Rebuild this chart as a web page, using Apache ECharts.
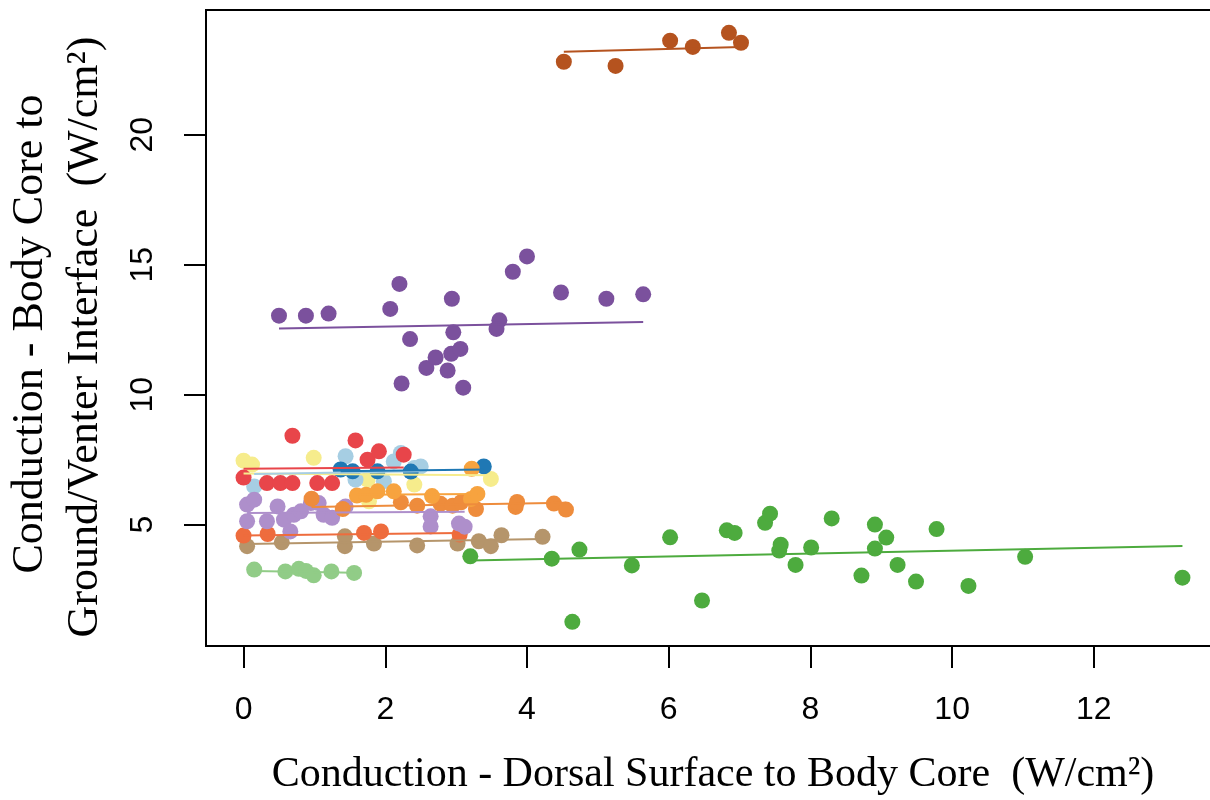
<!DOCTYPE html>
<html>
<head>
<meta charset="utf-8">
<script src="https://cdn.jsdelivr.net/npm/echarts@6/dist/echarts.min.js"></script>
<style>
  html, body { margin: 0; padding: 0; background: #ffffff; }
  #chart { width: 1210px; height: 800px; }
</style>
</head>
<body>
<div id="chart"></div>
<script>
// Tick positions on both axes
const xTicks = [0, 2, 4, 6, 8, 10, 12];
const yTicks = [5, 10, 15, 20];

// Axis titles
const xTitle = 'Conduction - Dorsal Surface to Body Core  (W/cm²)';
const yTitleLines = ['Conduction - Body Core to', 'Ground/Venter Interface  (W/cm²)'];

// Per-individual measurements: [dorsal -> core, core -> ground/venter] in W/cm2
const yellowPts = [[0.00, 7.46], [0.12, 7.31], [0.99, 7.57], [1.75, 6.73], [1.77, 5.90], [2.41, 6.54], [3.49, 6.76]];
const lightBluePts = [[0.15, 6.47], [1.44, 7.63], [1.58, 6.73], [1.98, 6.67], [2.12, 7.43], [2.22, 7.76], [2.41, 7.18], [2.50, 7.24]];
const darkBluePts = [[1.37, 7.12], [1.54, 7.05], [1.89, 7.05], [2.36, 7.04], [3.39, 7.24]];
const redPts = [[0.00, 6.81], [0.33, 6.60], [0.52, 6.60], [0.69, 6.60], [0.69, 8.42], [1.04, 6.60], [1.25, 6.60], [1.58, 8.24], [1.75, 7.50], [1.91, 7.82], [2.26, 7.69]];
const tanPts = [[0.05, 4.17], [0.54, 4.32], [1.43, 4.17], [1.43, 4.55], [1.84, 4.27], [2.45, 4.20], [3.02, 4.27], [3.32, 4.36], [3.49, 4.17], [3.64, 4.59], [4.22, 4.53]];
const redOrangePts = [[0.00, 4.58], [0.34, 4.64], [1.70, 4.68], [1.94, 4.74], [3.05, 4.62]];
const lightPurplePts = [[0.05, 5.77], [0.15, 5.96], [0.05, 5.13], [0.33, 5.13], [0.48, 5.70], [0.57, 5.19], [0.71, 5.38], [0.66, 4.74], [0.81, 5.51], [0.95, 5.83], [1.06, 5.83], [1.13, 5.38], [1.25, 5.26], [1.44, 5.70], [2.64, 5.32], [2.64, 4.93], [3.04, 5.04], [3.12, 4.92]];
const orangePts = [[0.96, 6.00], [1.40, 5.60], [2.22, 5.86], [2.45, 5.73], [2.78, 5.80], [2.95, 5.73], [3.07, 5.86], [3.28, 5.60], [3.84, 5.68], [3.86, 5.87], [4.38, 5.81], [4.55, 5.58]];
const lightOrangePts = [[1.60, 6.12], [1.73, 6.15], [1.89, 6.28], [2.12, 6.28], [2.66, 6.10], [3.21, 5.99], [3.30, 6.18], [3.22, 7.15]];
const lightGreenPts = [[0.15, 3.27], [0.59, 3.20], [0.78, 3.30], [0.88, 3.22], [0.99, 3.05], [1.24, 3.20], [1.56, 3.14]];
const greenPts = [[3.20, 3.78], [4.35, 3.69], [4.74, 4.04], [4.64, 1.26], [5.48, 3.43], [6.02, 4.51], [6.47, 2.08], [6.82, 4.78], [6.93, 4.68], [7.36, 5.07], [7.43, 5.42], [7.58, 4.23], [7.56, 4.00], [7.79, 3.45], [8.01, 4.12], [8.30, 5.24], [8.91, 5.00], [9.07, 4.50], [8.91, 4.08], [8.72, 3.04], [9.23, 3.45], [9.78, 4.83], [9.49, 2.81], [10.23, 2.64], [11.03, 3.76], [13.25, 2.96]];
const purplePts = [[0.50, 13.04], [0.88, 13.04], [1.20, 13.12], [2.07, 13.30], [2.20, 14.26], [2.35, 12.14], [2.23, 10.43], [2.58, 11.03], [2.71, 11.43], [2.88, 10.93], [2.93, 11.57], [3.06, 11.76], [2.96, 12.40], [2.94, 13.69], [3.10, 10.27], [3.61, 12.86], [3.57, 12.53], [3.80, 14.73], [4.00, 15.32], [4.48, 13.93], [5.12, 13.69], [5.64, 13.86]];
const brownPts = [[4.52, 22.81], [5.25, 22.65], [6.02, 23.62], [6.34, 23.38], [6.85, 23.92], [7.02, 23.54]];

// Fitted trend line per individual: [[xStart, yStart], [xEnd, yEnd]]
const yellowFit = [[0.00, 6.97], [3.49, 6.90]];
const lightBlueFit = [[0.15, 6.95], [2.50, 7.05]];
const darkBlueFit = [[1.37, 7.05], [3.39, 7.12]];
const redFit = [[0.00, 7.15], [2.26, 7.20]];
const tanFit = [[0.05, 4.25], [4.22, 4.45]];
const redOrangeFit = [[0.00, 4.58], [3.05, 4.68]];
const lightPurpleFit = [[0.05, 5.45], [3.12, 5.50]];
const orangeFit = [[0.96, 5.68], [4.55, 5.84]];
const lightOrangeFit = [[1.60, 6.15], [3.30, 6.18]];
const lightGreenFit = [[0.15, 3.22], [1.56, 3.15]];
const greenFit = [[3.20, 3.62], [13.25, 4.18]];
const purpleFit = [[0.50, 12.55], [5.64, 12.80]];
const brownFit = [[4.52, 23.19], [7.02, 23.38]];

const groups = [
  { pts: yellowPts, fit: yellowFit, color: '#F6EC8C' },
  { pts: lightBluePts, fit: lightBlueFit, color: '#A6CEE3' },
  { pts: darkBluePts, fit: darkBlueFit, color: '#1F78B4' },
  { pts: redPts, fit: redFit, color: '#E8454A' },
  { pts: tanPts, fit: tanFit, color: '#B5956B' },
  { pts: redOrangePts, fit: redOrangeFit, color: '#EE6C3D' },
  { pts: lightPurplePts, fit: lightPurpleFit, color: '#AE8FCB' },
  { pts: orangePts, fit: orangeFit, color: '#EE8C3C' },
  { pts: lightOrangePts, fit: lightOrangeFit, color: '#F7A33F' },
  { pts: lightGreenPts, fit: lightGreenFit, color: '#91CC87' },
  { pts: greenPts, fit: greenFit, color: '#4DAB3E' },
  { pts: purplePts, fit: purpleFit, color: '#7B519D' },
  { pts: brownPts, fit: brownFit, color: '#B5531F' }
];

const series = [];
groups.forEach(g => {
  series.push({
    type: 'scatter',
    data: g.pts,
    symbol: 'circle',
    symbolSize: 16,
    itemStyle: { color: g.color, opacity: 1 },
    z: 2,
    silent: true
  });
});
groups.forEach(g => {
  series.push({
    type: 'line',
    data: g.fit,
    showSymbol: false,
    lineStyle: { color: g.color, width: 2 },
    z: 3,
    silent: true
  });
});

const tickFont = { fontFamily: 'Liberation Sans', fontSize: 32, color: '#000' };
const titleFont = { fontFamily: 'Liberation Serif', fontSize: 42, color: '#000' };

// Two-line vertical title beside the y axis, reading bottom to top
const yTitleX = [30, 85];
const yTitleY = [334, 337];
const yTitleGraphics = yTitleLines.map((txt, i) => ({
  type: 'text',
  x: yTitleX[i],
  y: yTitleY[i],
  rotation: Math.PI / 2,
  silent: true,
  style: {
    text: txt,
    fontFamily: 'Liberation Serif',
    fontSize: 44,
    fill: '#000',
    align: 'center',
    verticalAlign: 'middle'
  }
}));

const chart = echarts.init(document.getElementById('chart'), null, { renderer: 'canvas' });
chart.setOption({
  animation: false,
  backgroundColor: '#ffffff',
  grid: {
    left: 206, top: 10, right: -10, bottom: 154,
    containLabel: false,
    outerBoundsMode: 'none',
    show: true, borderColor: '#000', borderWidth: 2, backgroundColor: 'transparent'
  },
  graphic: yTitleGraphics,
  xAxis: {
    type: 'value',
    min: -0.53, max: 13.78,
    axisLine: { show: true, onZero: false, lineStyle: { color: '#000', width: 2 } },
    axisTick: { show: true, inside: false, length: 22, customValues: xTicks, lineStyle: { color: '#000', width: 2 } },
    axisLabel: { show: true, customValues: xTicks, margin: 48, ...tickFont },
    splitLine: { show: false },
    name: xTitle,
    nameLocation: 'middle',
    nameGap: 108,
    nameTextStyle: titleFont
  },
  yAxis: {
    type: 'value',
    min: 0.33, max: 24.8,
    axisLine: { show: true, onZero: false, lineStyle: { color: '#000', width: 2 } },
    axisTick: { show: true, inside: false, length: 22, customValues: yTicks, lineStyle: { color: '#000', width: 2 } },
    axisLabel: { show: true, customValues: yTicks, rotate: 90, margin: 47, ...tickFont },
    splitLine: { show: false }
  },
  series: series
});
</script>
</body>
</html>
